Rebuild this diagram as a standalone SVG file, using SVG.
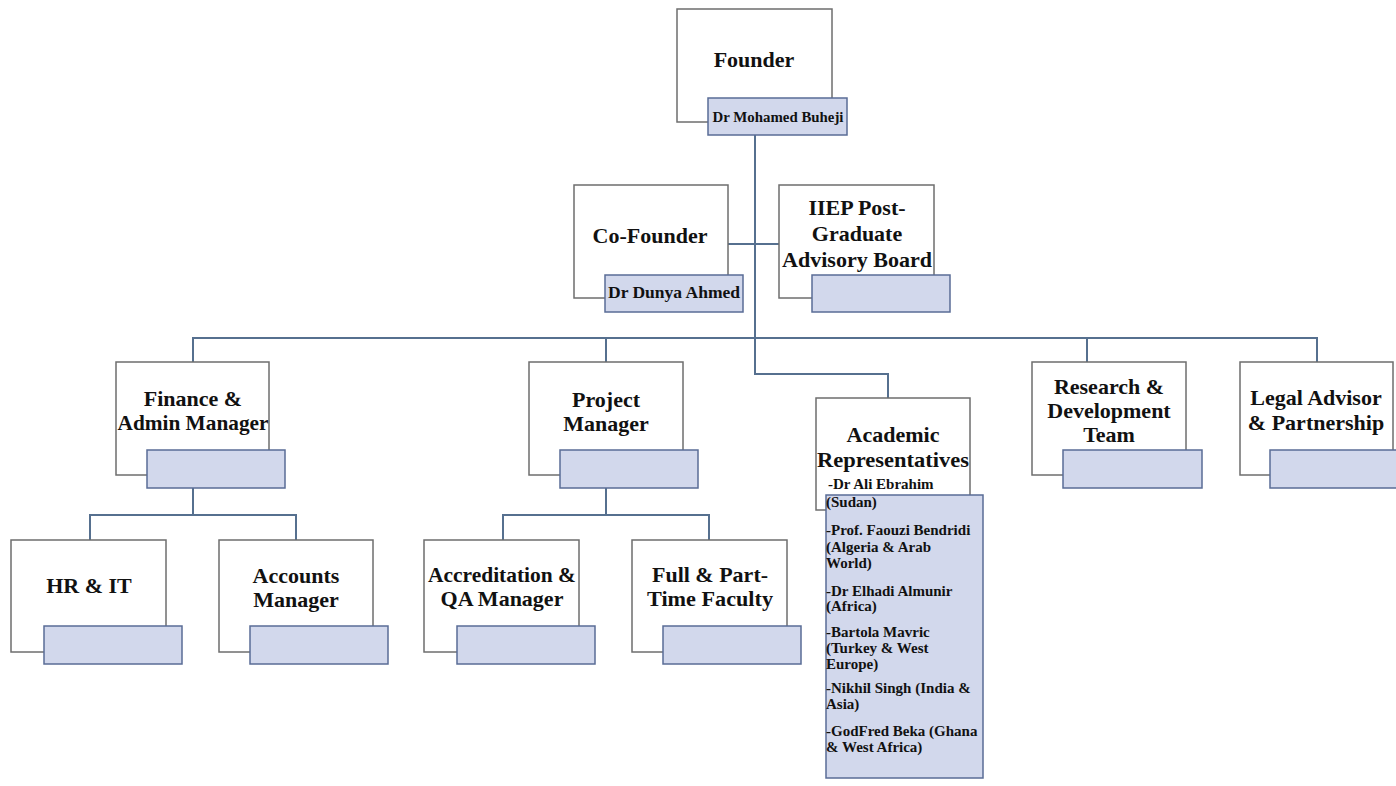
<svg xmlns="http://www.w3.org/2000/svg" width="1396" height="786" viewBox="0 0 1396 786">
<style>
.outer{fill:#ffffff;stroke:#6e6e6e;stroke-width:1.5}
.lab{fill:#d2d8ec;stroke:#5a6c96;stroke-width:1.5}
.t{font-family:"Liberation Serif",serif;font-weight:bold;font-size:22px;fill:#111;text-anchor:middle}
.s{font-family:"Liberation Serif",serif;font-weight:bold;font-size:14.5px;fill:#111}
.l{font-family:"Liberation Serif",serif;font-weight:bold;font-size:15px;fill:#111}
.c{fill:none;stroke:#56708f;stroke-width:2}
</style>
<rect width="1396" height="786" fill="#ffffff"/>
<g id="connectors">
<path class="c" d="M755 135 V374 H888 V398"/>
<path class="c" d="M728 244 H779"/>
<path class="c" d="M193 362 V338 H1317 V362"/>
<path class="c" d="M606 338 V362"/>
<path class="c" d="M1087 338 V362"/>
<path class="c" d="M193 488 V515 M90 540 V515 H296 V540"/>
<path class="c" d="M606 488 V515 M503 540 V515 H709 V540"/>
</g>
<g id="founder">
<rect class="outer" x="677" y="9" width="155" height="113"/>
<text class="t" x="754" y="67">Founder</text>
<rect class="lab" x="708" y="98" width="139" height="37"/>
<text class="s" x="778" y="122" text-anchor="middle" textLength="131" lengthAdjust="spacingAndGlyphs">Dr Mohamed Buheji</text>
</g>
<g id="cofounder">
<rect class="outer" x="574" y="185" width="154" height="113"/>
<text class="t" x="650" y="243">Co-Founder</text>
<rect class="lab" x="605" y="275" width="138" height="37"/>
<text class="s" x="674" y="298" text-anchor="middle" style="font-size:16px" textLength="132" lengthAdjust="spacingAndGlyphs">Dr Dunya Ahmed</text>
</g>
<g id="advisory">
<rect class="outer" x="779" y="185" width="155" height="113"/>
<text class="t" x="857" y="215">IIEP Post-</text>
<text class="t" x="857" y="241">Graduate</text>
<text class="t" x="857" y="267" textLength="150" lengthAdjust="spacingAndGlyphs">Advisory Board</text>
<rect class="lab" x="812" y="275" width="138" height="37"/>
</g>
<g id="finance">
<rect class="outer" x="116" y="362" width="153" height="113"/>
<text class="t" x="193" y="406">Finance &amp;</text>
<text class="t" x="193" y="430" textLength="151" lengthAdjust="spacingAndGlyphs">Admin Manager</text>
<rect class="lab" x="147" y="450" width="138" height="38"/>
</g>
<g id="hrit">
<rect class="outer" x="11" y="540" width="155" height="112"/>
<text class="t" x="89" y="593">HR &amp; IT</text>
<rect class="lab" x="44" y="626" width="138" height="38"/>
</g>
<g id="accounts">
<rect class="outer" x="219" y="540" width="154" height="112"/>
<text class="t" x="296" y="583">Accounts</text>
<text class="t" x="296" y="607">Manager</text>
<rect class="lab" x="250" y="626" width="138" height="38"/>
</g>
<g id="project">
<rect class="outer" x="529" y="362" width="154" height="113"/>
<text class="t" x="606" y="407">Project</text>
<text class="t" x="606" y="431">Manager</text>
<rect class="lab" x="560" y="450" width="138" height="38"/>
</g>
<g id="accreditation">
<rect class="outer" x="424" y="540" width="155" height="112"/>
<text class="t" x="502" y="582" textLength="148" lengthAdjust="spacingAndGlyphs">Accreditation &amp;</text>
<text class="t" x="502" y="606">QA Manager</text>
<rect class="lab" x="457" y="626" width="138" height="38"/>
</g>
<g id="faculty">
<rect class="outer" x="632" y="540" width="155" height="112"/>
<text class="t" x="710" y="582">Full &amp; Part-</text>
<text class="t" x="710" y="606" textLength="126" lengthAdjust="spacingAndGlyphs">Time Faculty</text>
<rect class="lab" x="663" y="626" width="138" height="38"/>
</g>
<g id="academic">
<rect class="outer" x="816" y="398" width="154" height="112"/>
<text class="t" x="893" y="442">Academic</text>
<text class="t" x="893" y="467" textLength="152" lengthAdjust="spacingAndGlyphs">Representatives</text>
<rect class="lab" x="826" y="495" width="157" height="283"/>
<text class="l" x="828" y="489">-Dr Ali Ebrahim</text>
<text class="l" x="826" y="507">(Sudan)</text>
<text class="l" x="826" y="535">-Prof.  Faouzi Bendridi</text>
<text class="l" x="826" y="552">(Algeria &amp; Arab</text>
<text class="l" x="826" y="568">World)</text>
<text class="l" x="826" y="596">-Dr  Elhadi Almunir</text>
<text class="l" x="826" y="611">(Africa)</text>
<text class="l" x="826" y="637">-Bartola Mavric</text>
<text class="l" x="826" y="653">(Turkey &amp; West</text>
<text class="l" x="826" y="669">Europe)</text>
<text class="l" x="826" y="693">-Nikhil  Singh (India &amp;</text>
<text class="l" x="826" y="709">Asia)</text>
<text class="l" x="826" y="736">-GodFred Beka (Ghana</text>
<text class="l" x="826" y="752">&amp; West Africa)</text>
</g>
<g id="research">
<rect class="outer" x="1032" y="362" width="154" height="113"/>
<text class="t" x="1109" y="394">Research &amp;</text>
<text class="t" x="1109" y="418">Development</text>
<text class="t" x="1109" y="442">Team</text>
<rect class="lab" x="1063" y="450" width="139" height="38"/>
</g>
<g id="legal">
<rect class="outer" x="1240" y="362" width="153" height="113"/>
<text class="t" x="1316" y="405">Legal Advisor</text>
<text class="t" x="1316" y="430">&amp; Partnership</text>
<rect class="lab" x="1270" y="450" width="130" height="38"/>
</g>
</svg>
